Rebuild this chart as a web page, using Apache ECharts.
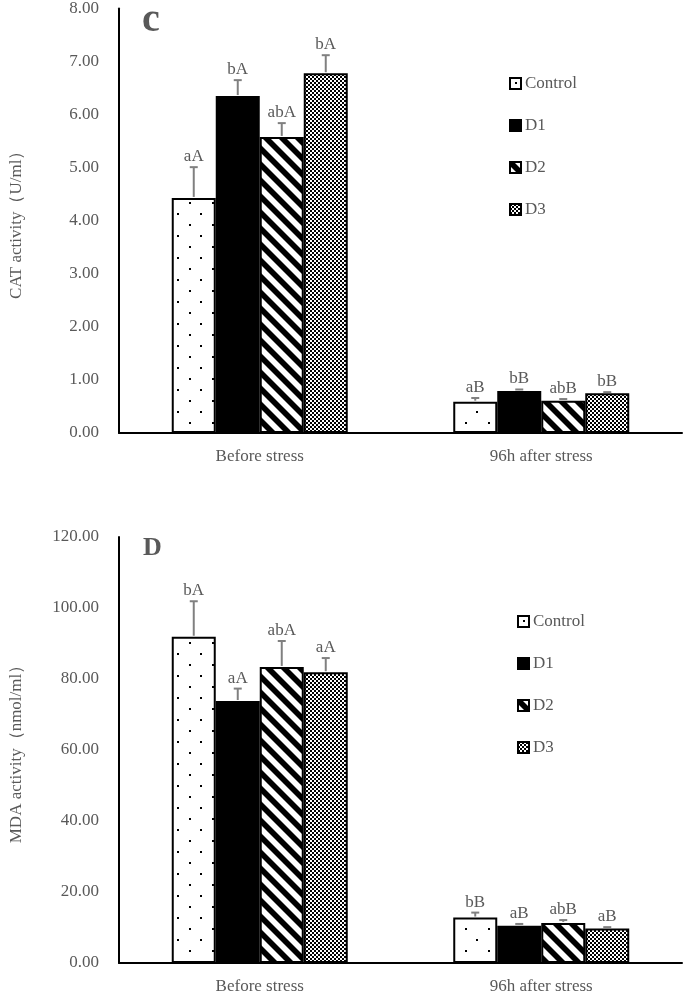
<!DOCTYPE html>
<html>
<head>
<meta charset="utf-8">
<script src="https://cdn.jsdelivr.net/npm/echarts@6/dist/echarts.min.js"></script>
<style>html,body{margin:0;padding:0;background:#fff}#c{width:685px;height:995px}</style>
</head>
<body>
<div id="c"></div>
<script>
// ---- data ----
const categories = ['Before stress', '96h after stress'];
const seriesNames = ['Control', 'D1', 'D2', 'D3'];

// Panel c: CAT activity (U/ml)
const catControl = [4.43, 0.59];
const catD1 = [6.35, 0.79];
const catD2 = [5.58, 0.61];
const catD3 = [6.78, 0.75];
const catErrControl = [0.58, 0.07];
const catErrD1 = [0.30, 0.03];
const catErrD2 = [0.26, 0.03];
const catErrD3 = [0.34, 0.02];
const catLetControl = ['aA', 'aB'];
const catLetD1 = ['bA', 'bB'];
const catLetD2 = ['abA', 'abB'];
const catLetD3 = ['bA', 'bB'];
const catTicks = { min: 0, max: 8, interval: 1 };

// Panel D: MDA activity (nmol/ml)
const mdaControl = [91.9, 12.8];
const mdaD1 = [73.8, 10.5];
const mdaD2 = [83.4, 11.3];
const mdaD3 = [81.9, 9.7];
const mdaErrControl = [10.0, 1.4];
const mdaErrD1 = [3.5, 0.5];
const mdaErrD2 = [7.3, 0.8];
const mdaErrD3 = [4.0, 0.4];
const mdaLetControl = ['bA', 'bB'];
const mdaLetD1 = ['aA', 'aB'];
const mdaLetD2 = ['abA', 'abB'];
const mdaLetD3 = ['aA', 'aB'];
const mdaTicks = { min: 0, max: 120, interval: 20 };

// ---- patterns ----
function mk(w, h, draw) {
  const c = document.createElement('canvas');
  c.width = w; c.height = h;
  const g = c.getContext('2d');
  g.fillStyle = '#fff'; g.fillRect(0, 0, w, h);
  g.fillStyle = '#000'; g.strokeStyle = '#000';
  draw(g);
  return c;
}
const patDots = mk(23, 22, g => { g.fillRect(5, 4, 2, 2); g.fillRect(16, 15, 2, 2); });
const patStripes = mk(16, 16, g => {
  g.lineWidth = 5.7;
  [-16, 0, 16].forEach(o => { g.beginPath(); g.moveTo(o - 2, -2); g.lineTo(o + 18, 18); g.stroke(); });
});
const patCheck = mk(4, 4, g => { g.fillRect(0, 0, 2, 2); g.fillRect(2, 2, 2, 2); });
const fills = [
  { image: patDots, repeat: 'repeat' },
  '#000',
  { image: patStripes, repeat: 'repeat' },
  { image: patCheck, repeat: 'repeat' }
];

const FONT = '"Liberation Serif", "Times New Roman", serif';
const GRAY = '#595959';
const BARW = 44;

const chart = echarts.init(document.getElementById('c'), null, { renderer: 'canvas' });

const panels = [
  { vals: [catControl, catD1, catD2, catD3], errs: [catErrControl, catErrD1, catErrD2, catErrD3],
    lets: [catLetControl, catLetD1, catLetD2, catLetD3], ticks: catTicks, name: 'CAT activity（U/ml）',
    top: 7, height: 426, letter: 'c', legendLeft: 504, legendTop: 70,
    letterStyle: { left: 142, top: 1, font: 'bold 40px ' } },
  { vals: [mdaControl, mdaD1, mdaD2, mdaD3], errs: [mdaErrControl, mdaErrD1, mdaErrD2, mdaErrD3],
    lets: [mdaLetControl, mdaLetD1, mdaLetD2, mdaLetD3], ticks: mdaTicks, name: 'MDA activity（nmol/ml）',
    top: 537, height: 428, letter: 'D', legendLeft: 512, legendTop: 608,
    letterStyle: { left: 143, top: 535, font: 'bold 26px ' } }
];

const grid = [], xAxis = [], yAxis = [], series = [], legend = [], graphic = [];
panels.forEach((p, pi) => {
  grid.push({ left: 116, right: 3, top: p.top, height: p.height });
  xAxis.push({ type: 'category', gridIndex: pi, data: categories,
    axisLine: { lineStyle: { color: '#000', width: 2 } }, axisTick: { show: false },
    axisLabel: { color: GRAY, fontFamily: FONT, fontSize: 17, margin: 15 } });
  yAxis.push({ type: 'value', gridIndex: pi, min: p.ticks.min, max: p.ticks.max, interval: p.ticks.interval,
    name: p.name, nameLocation: 'middle', nameGap: 94,
    nameTextStyle: { color: GRAY, fontFamily: FONT, fontSize: 17 },
    axisLine: { show: true, lineStyle: { color: '#000', width: 2 } }, axisTick: { show: false },
    splitLine: { show: false },
    axisLabel: { color: GRAY, fontFamily: FONT, fontSize: 17, margin: 20, formatter: v => v.toFixed(2) } });
  seriesNames.forEach((nm, si) => {
    series.push({ type: 'bar', name: nm, xAxisIndex: pi, yAxisIndex: pi, data: p.vals[si],
      barWidth: BARW, barGap: '0%',
      itemStyle: { color: fills[si], borderColor: '#000', borderWidth: 2 } });
  });
  seriesNames.forEach((nm, si) => {
    const data = p.vals[si].map((v, ci) => [ci, v, p.errs[si][ci], p.lets[si][ci]]);
    series.push({ type: 'custom', xAxisIndex: pi, yAxisIndex: pi, z: 5, silent: true,
      data: data,
      renderItem: (params, api) => {
        const ci = api.value(0), v = api.value(1), e = api.value(2);
        const base = api.coord([ci, v]);
        const topPt = api.coord([ci, v + e]);
        const x = base[0] + (si - 1.5) * BARW;
        return { type: 'group', children: [
          { type: 'line', shape: { x1: x, y1: base[1] - 1, x2: x, y2: topPt[1] }, style: { stroke: '#808080', lineWidth: 2 } },
          { type: 'line', shape: { x1: x - 4, y1: topPt[1], x2: x + 4, y2: topPt[1] }, style: { stroke: '#808080', lineWidth: 2 } },
          { type: 'text', x: x, y: topPt[1] - 2, style: { text: data[params.dataIndex][3], fill: GRAY,
            font: '17px ' + FONT, textAlign: 'center', textVerticalAlign: 'bottom' } }
        ] };
      }
    });
  });
  legend.push({ orient: 'vertical', left: p.legendLeft, top: p.legendTop, itemWidth: 11, itemHeight: 11,
    itemGap: 25, data: seriesNames, selectedMode: false, icon: 'rect',
    textStyle: { color: GRAY, fontFamily: FONT, fontSize: 17, padding: [0, 0, 0, -1] } });
  graphic.push({ type: 'text', left: p.letterStyle.left, top: p.letterStyle.top,
    style: { text: p.letter, fill: GRAY, font: p.letterStyle.font + FONT } });
});

chart.setOption({ animation: false, grid, xAxis, yAxis, series, legend, graphic });
</script>
</body>
</html>
